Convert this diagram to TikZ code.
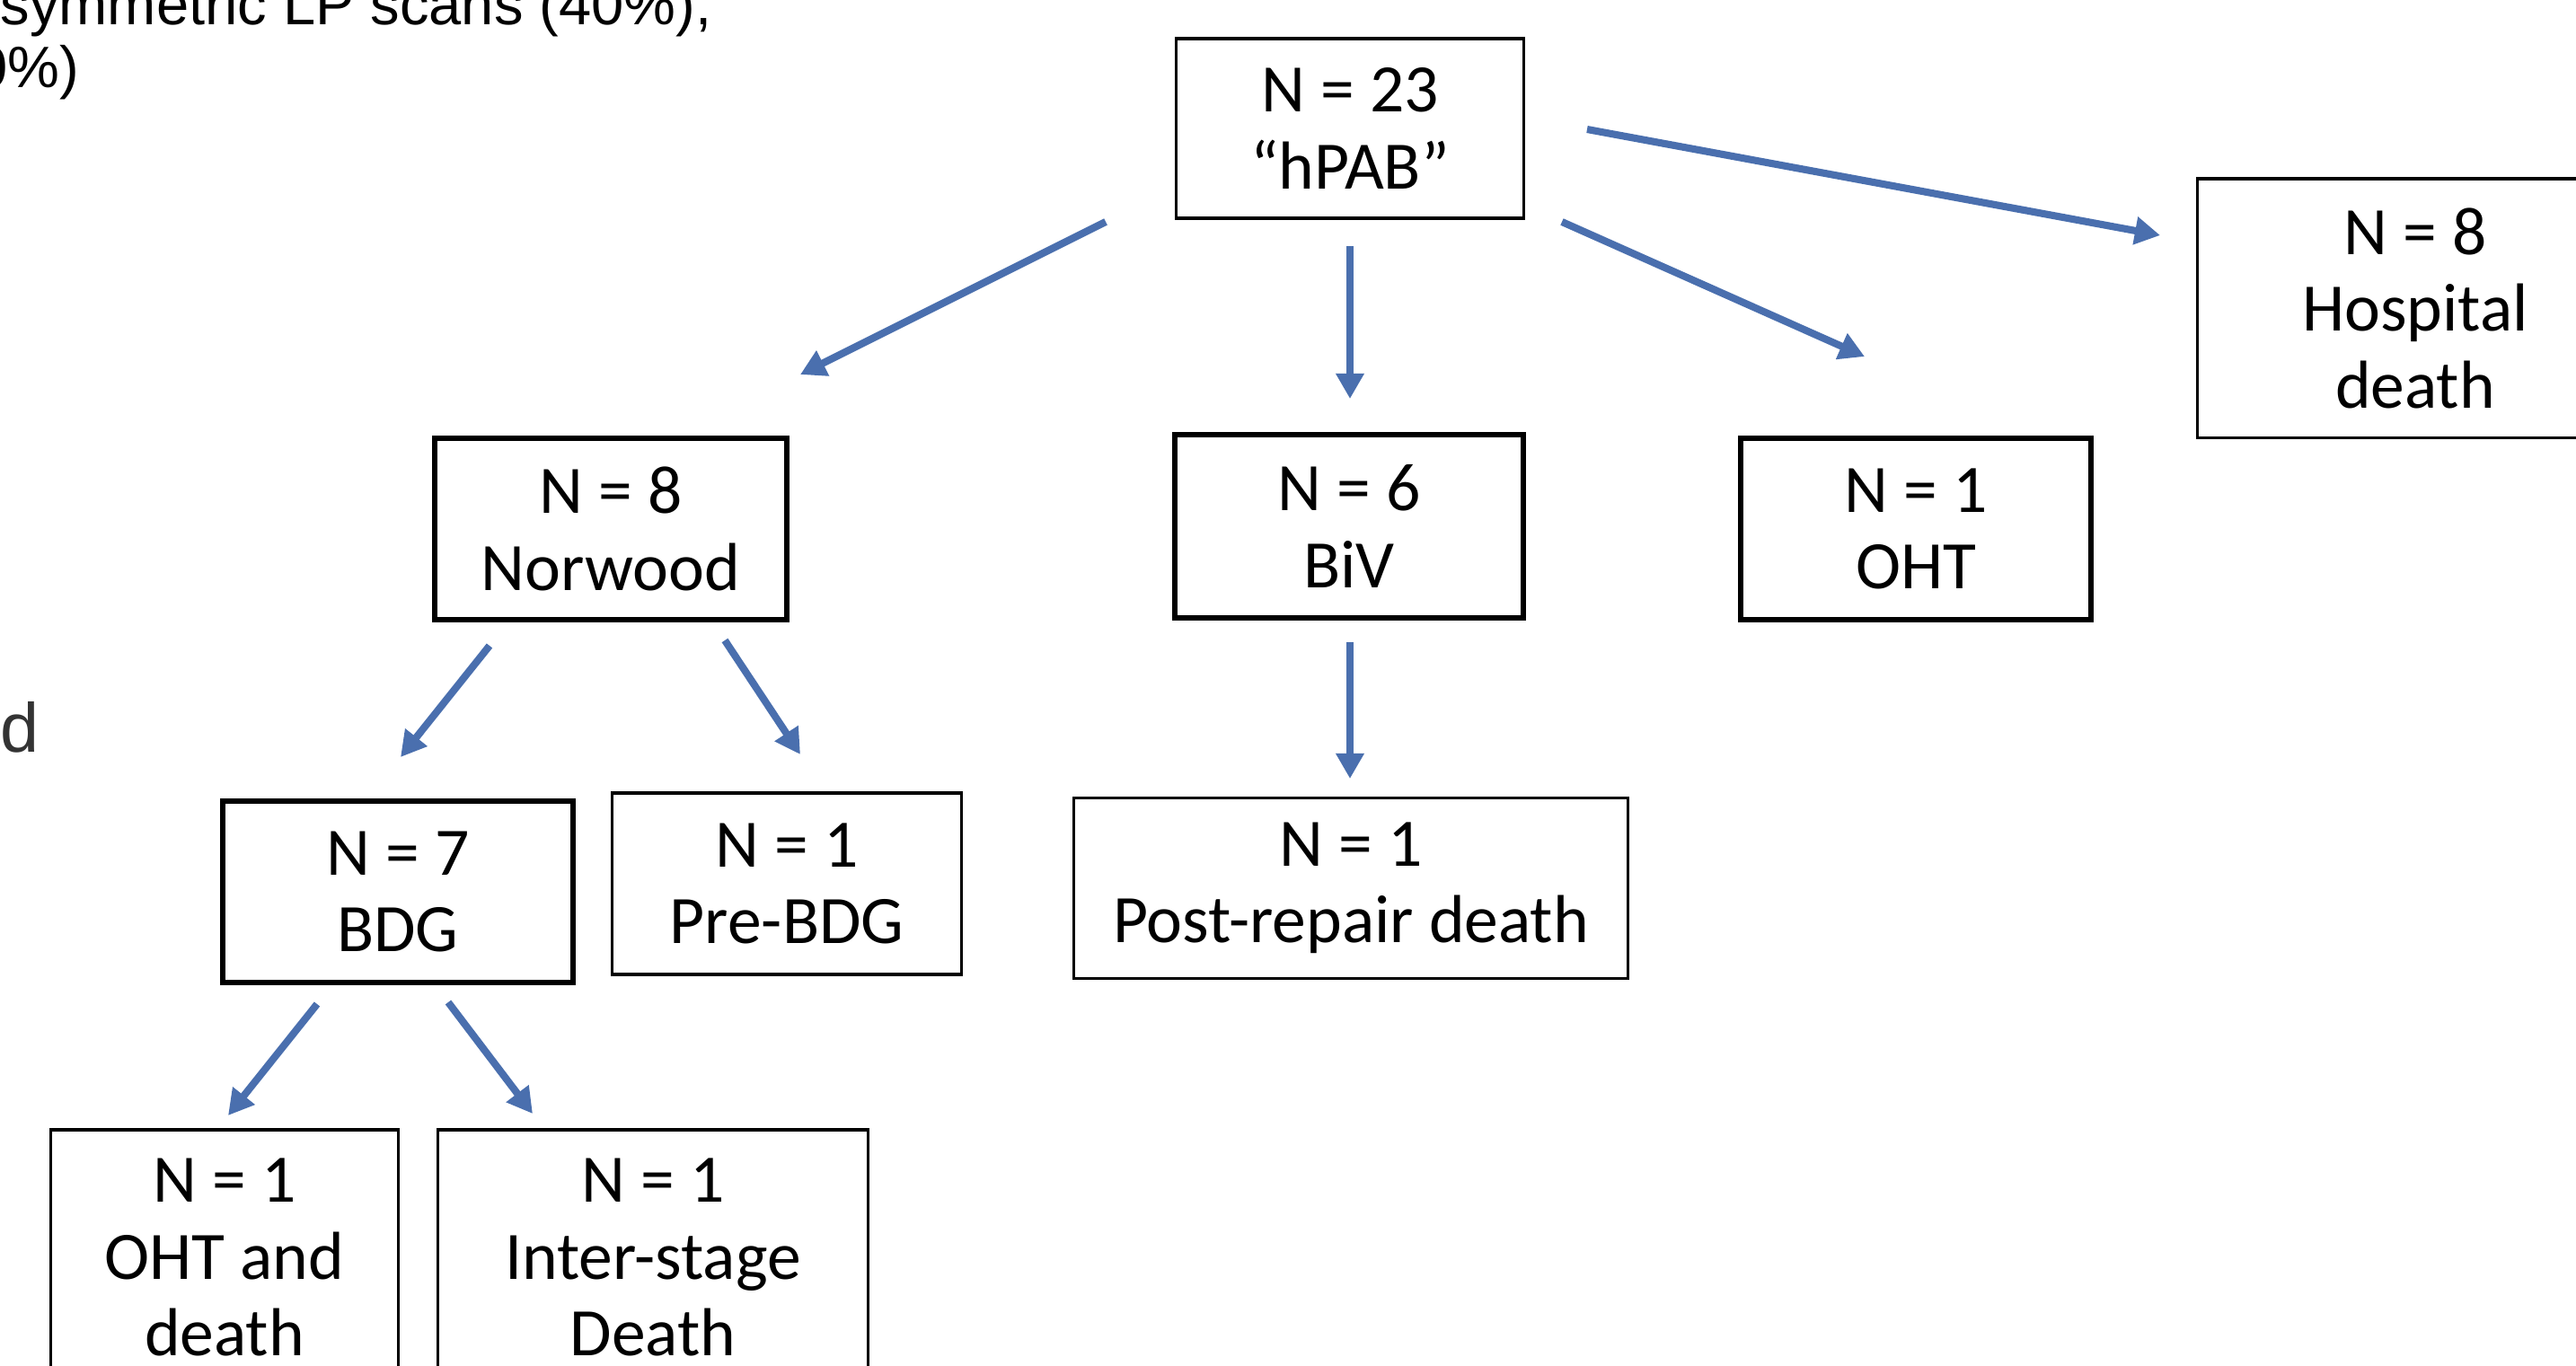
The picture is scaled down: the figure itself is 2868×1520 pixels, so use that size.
\documentclass[tikz,border=0pt]{standalone}
\usepackage{fontspec}
\setmainfont{Carlito}
\newfontfamily\arialfont{Liberation Sans}
\usepackage{xcolor}
\usetikzlibrary{arrows.meta}
\definecolor{flow}{RGB}{74,111,174}
\definecolor{dimtext}{RGB}{51,51,51}

\begin{document}
\begin{tikzpicture}[x=0.01cm, y=-0.01cm,
  every node/.style={font=\fontsize{21.5}{24.3}\selectfont, align=center, inner sep=0pt},
  box/.style={draw, line width=0.9pt, minimum width=3.86cm, minimum height=2.0cm},
  boldbox/.style={box, line width=1.7pt},
  flowarrow/.style={draw=flow, line width=2.3pt, -{Triangle[length=8pt,width=8.5pt]}}]
\useasboundingbox (0,0) rectangle (2868,1520);
\clip (0,0) rectangle (2868,1520);

% cut-off text on the left
\node[anchor=base west, font=\arialfont\fontsize{18.5}{22}\selectfont] (scans) at (0,27) {symmetric LP scans (40\%),};
\node[anchor=base west, font=\arialfont\fontsize{18.5}{22}\selectfont] (pct) at (-28,97) {0\%)};
\node[anchor=base east, font=\arialfont\fontsize{22}{26}\selectfont, text=dimtext] (tail) at (44,837) {d};

% boxes
\node[box] (root) at (1503,143) {N = 23\\“hPAB”};
\node[box, minimum width=4.84cm, minimum height=2.88cm] (hosp) at (2689,343) {N = 8\\Hospital\\death};
\node[boldbox, minimum width=3.91cm, minimum height=2.02cm] (norwood) at (680,589) {N = 8\\Norwood};
\node[boldbox, minimum width=3.88cm, minimum height=2.03cm] (biv) at (1502,586) {N = 6\\BiV};
\node[boldbox, minimum width=3.89cm, minimum height=2.02cm] (oht) at (2133,589) {N = 1\\OHT};
\node[boldbox, minimum width=3.89cm, minimum height=2.01cm] (bdg) at (443,993) {N = 7\\BDG};
\node[box, minimum width=3.88cm, minimum height=2.02cm] (prebdg) at (876,984) {N = 1\\Pre-BDG};
\node[box, minimum width=6.17cm, minimum height=2.01cm] (postrep) at (1504,989) {N = 1\\Post-repair death};
\node[box, minimum width=3.86cm, minimum height=2.84cm] (ohtdeath) at (250,1400) {N = 1\\OHT and\\death};
\node[box, minimum width=4.78cm, minimum height=2.84cm] (interstage) at (727,1400) {N = 1\\Inter-stage\\Death};

% arrow ends (the arrows float between the boxes)
\coordinate (root-l) at (1231,247);   \coordinate (norwood-in) at (891,417);
\coordinate (root-m) at (1503,274);   \coordinate (biv-in) at (1503,444);
\coordinate (root-r) at (1739,247);   \coordinate (oht-in) at (2076,397);
\coordinate (root-e) at (1767,144);   \coordinate (hosp-in) at (2405,262);
\coordinate (norwood-l) at (545,719); \coordinate (bdg-in) at (446,843);
\coordinate (norwood-r) at (807,713); \coordinate (prebdg-in) at (891,840);
\coordinate (biv-out) at (1503,715);  \coordinate (postrep-in) at (1503,867);
\coordinate (bdg-l) at (353,1118);    \coordinate (ohtdeath-in) at (254,1242);
\coordinate (bdg-r) at (499,1116);    \coordinate (interstage-in) at (593,1240);

\foreach \a/\b in {root-l/norwood-in, root-m/biv-in, root-r/oht-in, root-e/hosp-in,
                   norwood-l/bdg-in, norwood-r/prebdg-in, biv-out/postrep-in,
                   bdg-l/ohtdeath-in, bdg-r/interstage-in}
  \draw[flowarrow] (\a) -- (\b);
\end{tikzpicture}
\end{document}
